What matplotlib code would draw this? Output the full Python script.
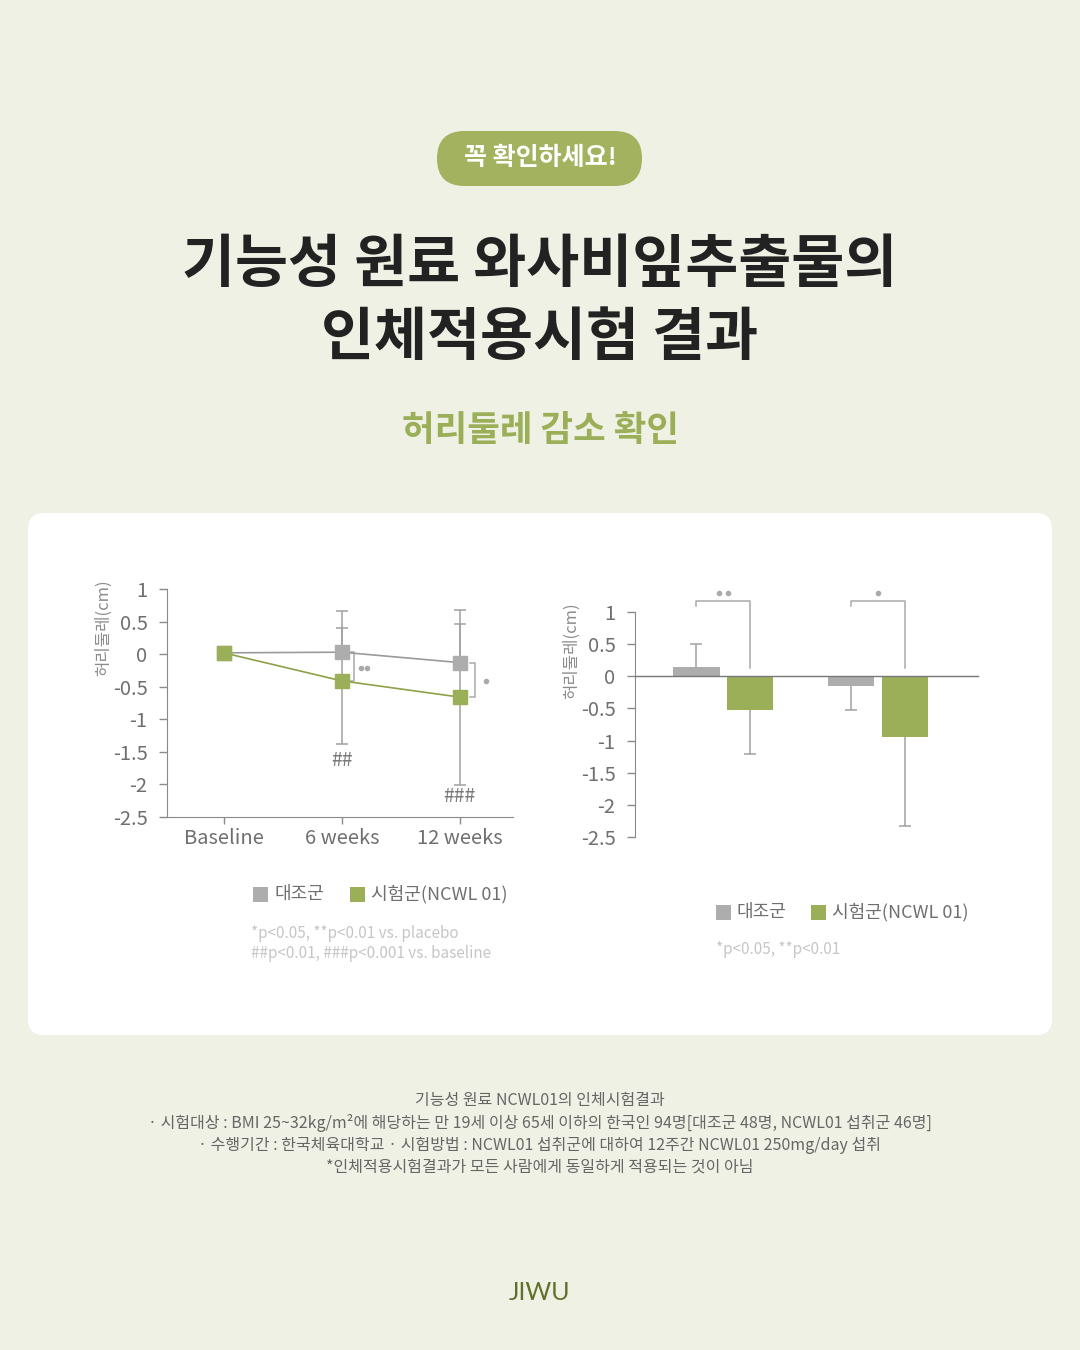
#!/usr/bin/env python3

import matplotlib
import numpy as np

matplotlib.use("Agg")
import matplotlib.pyplot as plt
from matplotlib.patches import FancyBboxPatch, Rectangle

plt.rcParams["font.family"] = ["Noto Sans CJK KR", "DejaVu Sans"]
plt.rcParams["axes.unicode_minus"] = False

# ---- data: line chart (waist circumference change, cm) ----
timepoints = ["Baseline", "6 weeks", "12 weeks"]
control_mean = [0.02, 0.03, -0.13]
control_err_up = [0.0, 0.63, 0.80]
test_mean = [0.02, -0.41, -0.66]
test_err_up = [0.0, 0.81, 1.12]
test_err_down = [0.0, 0.97, 1.35]
hash_labels = ["", "##", "###"]
hash_y = [0.0, -1.63, -2.19]

# ---- data: bar chart (6 / 12 weeks) ----
bar_control = [0.14, -0.15]
bar_control_err = [0.37, -0.38]   # signed: drawn away from zero
bar_test = [-0.53, -0.95]
bar_test_err = [-0.68, -1.38]
bar_sig_dots = [2, 1]

yticks = [1, 0.5, 0, -0.5, -1, -1.5, -2, -2.5]
ytick_labels = ["1", "0.5", "0", "-0.5", "-1", "-1.5", "-2", "-2.5"]

GRAY = "#adadad"
GREEN = "#9baf58"
AXC = "#8a8a8a"
TXT = "#6f6f6f"
ERR = "#a0a0a0"

W, H = 1080, 1350
fig = plt.figure(figsize=(10.8, 13.5), dpi=100)
fig.patch.set_facecolor("#eff1e5")

bg = fig.add_axes([0, 0, 1, 1], zorder=-1)
bg.set_xlim(0, W)
bg.set_ylim(H, 0)
bg.axis("off")

bg.add_patch(FancyBboxPatch((28, 513), 1024, 522, boxstyle="round,pad=0,rounding_size=16",
                            fc="white", ec="none"))
bg.add_patch(FancyBboxPatch((437, 131), 205, 55, boxstyle="round,pad=0,rounding_size=27.5",
                            fc="#a2b25e", ec="none"))
bg.text(540, 158, "꼭 확인하세요!", color="white", fontsize=18, weight="bold",
        ha="center", va="center")
bg.text(540, 265, "기능성 원료 와사비잎추출물의", color="#222222", fontsize=41.5, weight="bold",
        ha="center", va="center")
bg.text(540, 338, "인체적용시험 결과", color="#222222", fontsize=41.5, weight="bold",
        ha="center", va="center")
bg.text(540, 430, "허리둘레 감소 확인", color=GREEN, fontsize=25.5, weight="bold",
        ha="center", va="center")


def legend_row(x0, y, gap):
    bg.add_patch(Rectangle((x0, y - 7.5), 15, 15, fc=GRAY, ec="none"))
    bg.text(x0 + 21, y, "대조군", color=TXT, fontsize=13, va="center")
    bg.add_patch(Rectangle((x0 + gap, y - 7.5), 15, 15, fc=GREEN, ec="none"))
    bg.text(x0 + gap + 21, y, "시험군(NCWL 01)", color=TXT, fontsize=13, va="center")


legend_row(253, 894, 97)
legend_row(716, 912, 95)
bg.text(251, 934, "*p<0.05, **p<0.01 vs. placebo", color="#c6c6c6", fontsize=11, va="center")
bg.text(251, 954, "##p<0.01, ###p<0.001 vs. baseline", color="#c6c6c6", fontsize=11, va="center")
bg.text(716, 949, "*p<0.05, **p<0.01", color="#c6c6c6", fontsize=11, va="center")

notes = [
    "기능성 원료 NCWL01의 인체시험결과",
    "· 시험대상 : BMI 25~32kg/m²에 해당하는 만 19세 이상 65세 이하의 한국인 94명[대조군 48명, NCWL01 섭취군 46명]",
    "· 수행기간 : 한국체육대학교 · 시험방법 : NCWL01 섭취군에 대하여 12주간 NCWL01 250mg/day 섭취",
    "*인체적용시험결과가 모든 사람에게 동일하게 적용되는 것이 아님",
]
for i, line in enumerate(notes):
    bg.text(540, 1101 + 22 * i, line, color="#666666", fontsize=11.5, ha="center", va="center")

bg.text(540, 1292, "JIWU", color="#5f7028", fontsize=18, ha="center", va="center",
        family=["Lato", "DejaVu Sans"])


def px_axes(x0, y0, x1, y1):
    return fig.add_axes([x0 / W, 1 - y1 / H, (x1 - x0) / W, (y1 - y0) / H])


def style_axis(ax):
    ax.set_facecolor("none")
    for s in ["top", "right"]:
        ax.spines[s].set_visible(False)
    ax.spines["left"].set_color(AXC)
    ax.set_ylim(-2.5, 1)
    ax.set_yticks(yticks)
    ax.set_yticklabels(ytick_labels)
    ax.tick_params(axis="y", colors=AXC, labelcolor=TXT, labelsize=14.5, length=6, width=1, pad=8)
    ax.set_ylabel("허리둘레(cm)", color="#8c8c8c", fontsize=12)


def one_sided_err(ax, xs, ends, tips):
    # vertical line from the mark to the tip, cap only at the tip
    ax.vlines(xs, ends, tips, color=ERR, lw=1.1, zorder=1, clip_on=False)
    ax.plot(xs, tips, ls="none", marker="_", ms=8, mew=1.1, color=ERR, zorder=1, clip_on=False)


def dots(ax, xc, y, n, dx):
    xs = xc + (np.arange(n) - (n - 1) / 2) * dx
    ax.plot(xs, [y] * n, ls="none", marker="o", ms=3, color="#aaaaaa", clip_on=False)


# ---- line chart ----
ax1 = px_axes(167, 589, 513, 817)
style_axis(ax1)
ax1.spines["bottom"].set_color(AXC)
x = np.arange(len(timepoints))
ax1.set_xlim(-0.48, 2.45)
ax1.set_xticks(x)
ax1.set_xticklabels(timepoints)
ax1.tick_params(axis="x", colors=AXC, labelcolor=TXT, labelsize=14.5, length=5, width=1, pad=3)
ax1.yaxis.set_label_coords(-0.16, 0.83)

cm = np.array(control_mean)
tm = np.array(test_mean)
one_sided_err(ax1, x[1:], cm[1:], cm[1:] + np.array(control_err_up[1:]))
one_sided_err(ax1, x[1:], tm[1:], tm[1:] + np.array(test_err_up[1:]))
one_sided_err(ax1, x[1:], tm[1:], tm[1:] - np.array(test_err_down[1:]))
ax1.plot(x, control_mean, color="#9a9a9a", lw=1.2, marker="s", ms=10, mfc=GRAY, mec=GRAY,
         zorder=3, clip_on=False)
ax1.plot(x, test_mean, color="#8da148", lw=1.2, marker="s", ms=10, mfc=GREEN, mec=GREEN,
         zorder=4, clip_on=False)
for xi, lab, yy in zip(x, hash_labels, hash_y):
    if lab:
        ax1.text(xi, yy, lab, color="#7a7a7a", fontsize=14, ha="center", va="center")

# significance brackets
for top, bot, bx, n in [(control_mean[1], test_mean[1], 1.1, 2),
                        (control_mean[2], test_mean[2], 2.13, 1)]:
    ax1.plot([bx - 0.04, bx, bx, bx - 0.04], [top, top, bot, bot], color="#aaaaaa", lw=1.1,
             clip_on=False)
    dots(ax1, bx + 0.09, (top + bot) / 2 - 0.02, n, 0.055)

# ---- bar chart ----
ax2 = px_axes(635, 612, 978, 837)
style_axis(ax2)
ax2.spines["bottom"].set_visible(False)
ax2.set_xticks([])
ax2.set_xlim(-0.57, 1.645)
ax2.yaxis.set_label_coords(-0.16, 0.83)
ax2.axhline(0, color="#777777", lw=1, zorder=3, clip_on=False)

g = np.arange(len(bar_control))
off, bw = 0.174, 0.30
ax2.bar(g - off, bar_control, width=bw, color=GRAY, zorder=2)
ax2.bar(g + off, bar_test, width=bw, color=GREEN, zorder=2)
one_sided_err(ax2, g - off, bar_control, np.array(bar_control) + np.array(bar_control_err))
one_sided_err(ax2, g + off, bar_test, np.array(bar_test) + np.array(bar_test_err))
for gi, n in zip(g, bar_sig_dots):
    ax2.plot([gi - off, gi - off, gi + off, gi + off], [1.10, 1.17, 1.17, 0.13],
             color="#aaaaaa", lw=1.1, clip_on=False)
    dots(ax2, gi, 1.30, n, 0.06)

fig.savefig("out.png", dpi=100, facecolor=fig.get_facecolor())
